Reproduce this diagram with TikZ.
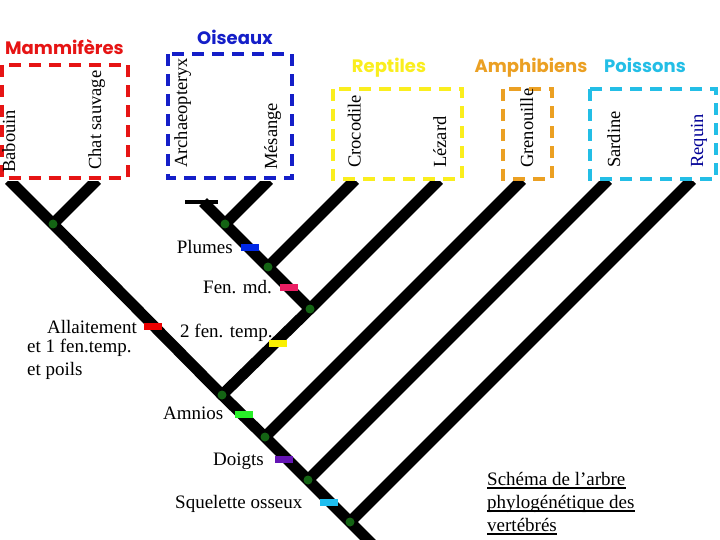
\documentclass[tikz,border=0pt]{standalone}
\usepackage{fontspec}
\setmainfont{Liberation Serif}
\newfontfamily\titlefont{Poppins}
\definecolor{mamred}{RGB}{230,20,20}
\definecolor{oisblue}{RGB}{20,30,200}
\definecolor{repyellow}{RGB}{250,238,30}
\definecolor{amporange}{RGB}{235,160,35}
\definecolor{poicyan}{RGB}{35,190,230}
\definecolor{reqnavy}{RGB}{0,0,150}
\definecolor{dotgreen}{RGB}{20,100,20}
\definecolor{cPlumes}{RGB}{0,40,230}
\definecolor{cFen}{RGB}{235,30,100}
\definecolor{cAll}{RGB}{235,0,0}
\definecolor{cTemp}{RGB}{250,240,0}
\definecolor{cAmn}{RGB}{40,240,40}
\definecolor{cDoi}{RGB}{100,20,180}
\definecolor{cSqu}{RGB}{30,190,240}
\begin{document}
\begin{tikzpicture}[x=1pt,y=-1pt,
  branch/.style={line width=11pt, black},
  cladebox/.style={line width=4pt, dash pattern=on 12pt off 8pt},
  clade/.style={font=\titlefont\bfseries\fontsize{18}{20}\selectfont, inner sep=0, anchor=base},
  leaf/.style={rotate=90, anchor=base west, inner sep=0, font=\fontsize{18.5}{20}\selectfont},
  lab/.style={inner sep=0, font=\fontsize{19}{21}\selectfont},
  dot/.style={circle, fill=dotgreen, minimum size=9pt, inner sep=0},
  charbar/.style={minimum width=18pt, minimum height=7pt, inner sep=0}
]
\useasboundingbox (0,0) rectangle (720,540);
\fill[white] (0,0) rectangle (720,540);

% clade boxes
\draw[cladebox, mamred] (1.5,65) rectangle (128,178);
\draw[cladebox, oisblue] (168,54) rectangle (292,178);
\draw[cladebox, repyellow] (333,89) rectangle (462,179);
\draw[cladebox, amporange] (503,89) rectangle (552,179);
\draw[cladebox, poicyan] (590,89) rectangle (716,179);

% clade titles
\node[clade, mamred] (tMam) at (64.5,55) {Mammifères};
\node[clade, oisblue] (tOis) at (235,45) {Oiseaux};
\node[clade, repyellow] (tRep) at (389,73) {Reptiles};
\node[clade, amporange] (tAmp) at (531,73) {Amphibiens};
\node[clade, poicyan] (tPoi) at (645,73) {Poissons};

% leaf labels
\node[leaf] (lBab) at (15,173) {Babouin};
\node[leaf] (lCha) at (101,170) {Chat sauvage};
\node[leaf] (lArc) at (187,168) {Archaeopteryx};
\node[leaf] (lMes) at (277,170) {Mésange};
\node[leaf] (lCro) at (360.5,168) {Crocodile};
\node[leaf] (lLez) at (446,168) {Lézard};
\node[leaf] (lGre) at (533,168) {Grenouille};
\node[leaf] (lSar) at (620,168) {Sardine};
\node[leaf, reqnavy] (lReq) at (703,168) {Requin};

% tree nodes
\coordinate (M) at (53,224);
\coordinate (A) at (222,395);
\coordinate (T) at (265,437);
\coordinate (F) at (308,480);
\coordinate (R) at (350,522);
\coordinate (S) at (310,309);
\coordinate (C) at (268,267);
\coordinate (Bd) at (225,224);
% leaf ends
\coordinate (bab) at (9,180);
\coordinate (cha) at (97,180);
\coordinate (mes) at (269,180);
\coordinate (arc) at (203,202);
\coordinate (cro) at (355,180);
\coordinate (lez) at (439,180);
\coordinate (gre) at (522,180);
\coordinate (sar) at (608,180);
\coordinate (req) at (692,180);
\coordinate (bot) at (385,557);
\coordinate (tbL) at (185,202);
\coordinate (tbR) at (218,202);

\begin{scope}
\clip (0,182) rectangle (720,540);
\draw[branch] (bab) -- (M) -- (A) -- (T) -- (F) -- (R) -- (bot);
\draw[branch] (M) -- (cha);
\draw[branch] (A) -- (S) -- (lez);
\draw[branch] (S) -- (C) -- (Bd) -- (arc);
\draw[branch] (Bd) -- (mes);
\draw[branch] (C) -- (cro);
\draw[branch] (T) -- (gre);
\draw[branch] (F) -- (sar);
\draw[branch] (R) -- (req);
\end{scope}
\draw[line width=4pt] (tbL) -- (tbR);

% dots
\foreach \p in {M,A,T,F,R,S,C,Bd} \node[dot] at (\p) {};

% character bars
\node[charbar, fill=cPlumes] (mPlu) at (249.5,247.5) {};
\node[charbar, fill=cFen] (mFen) at (289,287.5) {};
\node[charbar, fill=cAll] (mAll) at (153,326) {};
\node[charbar, fill=cTemp] (mTem) at (278,343.5) {};
\node[charbar, fill=cAmn] (mAmn) at (244,414.5) {};
\node[charbar, fill=cDoi] (mDoi) at (284,459.5) {};
\node[charbar, fill=cSqu] (mSqu) at (329,502.5) {};

% character labels
\node[lab, anchor=base east] (xPlu) at (233,253) {Plumes};
\node[lab, anchor=base east] (xFen) at (272,293) {Fen. md.};
\node[lab, anchor=base east] (xAll) at (137,333) {Allaitement};
\node[lab, anchor=base west] (xAll2) at (27,352) {et 1 fen.temp.};
\node[lab, anchor=base west] (xAll3) at (27,375) {et poils};
\node[lab, anchor=base west] (xTem) at (180,337) {2 fen. temp.};
\node[lab, anchor=base west] (xAmn) at (163,419) {Amnios};
\node[lab, anchor=base west] (xDoi) at (213,465) {Doigts};
\node[lab, anchor=base west] (xSqu) at (175,508) {Squelette osseux};

% caption
\node[lab, anchor=base west] (cap1) at (487,485) {Schéma de l’arbre};
\node[lab, anchor=base west] (cap2) at (487,508) {phylogénétique des};
\node[lab, anchor=base west] (cap3) at (487,531) {vertébrés};
\foreach \c in {cap1,cap2,cap3}
  \draw[line width=2.5pt] ([yshift=-3pt]\c.base west) -- ([yshift=-3pt]\c.base east);
\end{tikzpicture}
\end{document}
